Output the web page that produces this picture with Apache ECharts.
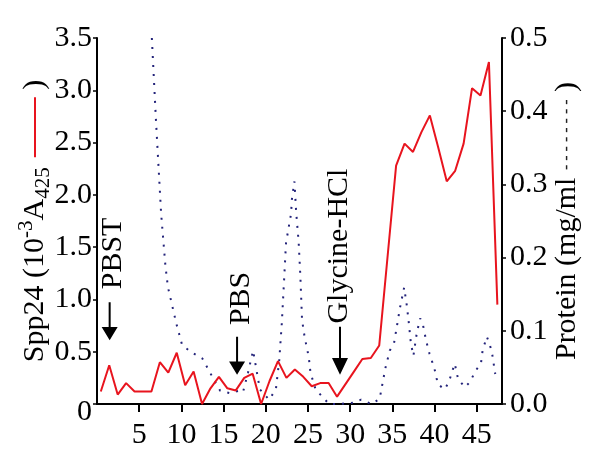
<!DOCTYPE html>
<html><head><meta charset="utf-8">
<script src="https://cdn.jsdelivr.net/npm/echarts@6/dist/echarts.min.js"></script>
<style>html,body{margin:0;padding:0;background:#fff}#c{width:600px;height:466px}</style>
</head><body><div id="c"></div>
<script>
// Spp24 activity (left axis, 10^-3 A425)
const spp24X = [0.45,1.45,2.45,3.45,4.45,5.45,6.45,7.45,8.45,9.45,10.45,11.45,12.45,13.45,14.45,15.45,16.45,17.45,18.45,19.45,20.45,21.45,22.45,23.45,24.45,25.45,26.45,27.45,28.45,29.45,30.45,31.45,32.45,33.45,34.45,35.45,36.45,37.45,38.45,39.45,40.45,41.45,42.45,43.45,44.45,45.45,46.45,47.45];
const spp24 = [0.12,0.37,0.09,0.20,0.12,0.12,0.12,0.40,0.30,0.49,0.18,0.31,0.00,0.15,0.26,0.15,0.13,0.25,0.29,0.00,0.22,0.41,0.25,0.33,0.26,0.17,0.20,0.20,0.07,0.19,0.31,0.43,0.44,0.56,1.42,2.28,2.49,2.41,2.60,2.76,2.45,2.13,2.23,2.49,3.02,2.95,3.27,0.95];
// Protein (right axis, mg/ml)
const proteinX = [6.5,7.0,7.6,8.1,8.4,9.4,10.1,11.3,12.5,13.3,14.0,14.6,15.7,16.8,17.3,17.9,18.5,19.0,19.3,20.4,21.2,21.6,21.9,22.2,22.4,22.7,23.0,23.1,23.4,23.6,23.9,24.1,24.3,24.6,25.1,25.3,25.9,27.5,28.2,28.8,30.5,31.3,32.5,33.5,33.9,34.2,34.7,35.2,35.6,35.9,36.4,36.7,36.9,37.2,37.5,37.9,38.3,38.6,39.0,39.4,40.0,40.4,41.2,41.7,42.0,42.4,42.8,43.6,44.2,44.9,45.5,45.7,46.2,46.5,46.8,47.2];
const protein = [0.50,0.385,0.26,0.19,0.16,0.11,0.08,0.07,0.062,0.045,0.03,0.018,0.015,0.018,0.016,0.043,0.073,0.04,0.02,0.006,0.02,0.06,0.11,0.175,0.22,0.24,0.26,0.28,0.304,0.263,0.221,0.175,0.115,0.092,0.064,0.043,0.02,0.0,0.0,0.0,0.002,0.006,0.0,0.007,0.032,0.05,0.073,0.083,0.11,0.131,0.159,0.136,0.117,0.083,0.066,0.097,0.117,0.11,0.087,0.069,0.048,0.027,0.02,0.03,0.041,0.055,0.034,0.023,0.03,0.046,0.055,0.073,0.092,0.083,0.071,0.041];
// Tick settings / labels
const xTickLabels = ['5','10','15','20','25','30','35','40','45'];
const leftTickLabels = ['0','0.5','1.0','1.5','2.0','2.5','3.0','3.5'];
const rightTickLabels = ['0.0','0.1','0.2','0.3','0.4','0.5'];
// Buffer-change annotations
const noteText = ['PBST','PBS','Glycine-HCl'];
const arrowX = [1.5,16.6,28.8];
const arrowTip = [0.61,0.28,0.28];
const noteX = [1.94,17.06,28.7];
const noteY = [1.44,1.01,1.51];
const arrowLen = [38,38,48];

const FONT = 'Liberation Serif';
const chart = echarts.init(document.getElementById('c'));
const arrowPath = 'path://M7,0L9,0L9,26L16,26L8,40L0,26L7,26Z';
const marks = [];
noteText.forEach((t,i)=>{
  marks.push({name:t+'_a', coord:[arrowX[i],arrowTip[i]], symbol:arrowPath, symbolSize:[16,arrowLen[i]], symbolKeepAspect:false, symbolOffset:[0,'-50%'], itemStyle:{color:'#000'}, label:{show:false}});
  marks.push({name:t, coord:[noteX[i],noteY[i]], symbol:'rect', symbolSize:1, itemStyle:{color:'rgba(0,0,0,0)'},
    label:{show:true, formatter:t, position:'inside', rotate:90, fontSize:30, fontFamily:FONT, color:'#000'}});
});
const axisText = {fontSize:30, fontFamily:FONT, color:'#000'};
chart.setOption({
  animation:false,
  backgroundColor:'#fff',
  grid:{left:97, right:98, top:38, bottom:62},
  xAxis:{type:'value', min:0, max:48, interval:5,
    axisLine:{lineStyle:{color:'#000', width:2}},
    axisTick:{show:true, length:8, lineStyle:{color:'#000', width:2}},
    splitLine:{show:false},
    axisLabel:Object.assign({margin:16, showMinLabel:false, showMaxLabel:false,
      formatter:v=>{const i=Math.round(v/5)-1; return (v%5===0 && i>=0 && i<xTickLabels.length)?xTickLabels[i]:'';}}, axisText)
  },
  yAxis:[{type:'value', min:0, max:3.5, interval:0.5, position:'left',
      axisLine:{show:true, lineStyle:{color:'#000', width:2}},
      axisTick:{show:true, length:4, lineStyle:{color:'#000', width:1.5}},
      splitLine:{show:false},
      axisLabel:Object.assign({margin:5, formatter:v=>{const s=leftTickLabels[Math.round(v/0.5)]||''; return v===0?'{z|'+s+'}':s;},
        rich:{z:{fontSize:30, fontFamily:FONT, color:'#000', padding:[16,0,0,0]}}}, axisText),
      name:'{t|Spp24 (10}{sup|-3}{t|A}{sub|425}{g| }{red| }{t| )}',
      nameLocation:'middle', nameRotate:90, nameGap:43, nameMoveOverlap:false,
      nameTextStyle:{rich:{
        t:{fontSize:30, fontFamily:FONT, color:'#000', lineHeight:38},
        sup:{fontSize:21, fontFamily:FONT, color:'#000', verticalAlign:'top', lineHeight:20},
        sub:{fontSize:21, fontFamily:FONT, color:'#000', verticalAlign:'bottom', lineHeight:20},
        g:{fontSize:10, width:10},
        red:{width:60, height:2, backgroundColor:'#e8141e', fontSize:2}
      }}
    },
    {type:'value', min:0, max:0.5, interval:0.1, position:'right',
      axisLine:{show:true, lineStyle:{color:'#000', width:2}},
      axisTick:{show:true, length:4, lineStyle:{color:'#000', width:1.5}},
      splitLine:{show:false},
      axisLabel:Object.assign({margin:8, formatter:v=>rightTickLabels[Math.round(v/0.1)]||''}, axisText),
      name:'{t|Protein (mg/ml }{d|- - - - - - - -}{t| )}',
      nameLocation:'middle', nameRotate:90, nameGap:47, nameMoveOverlap:false,
      nameTextStyle:{rich:{
        t:{fontSize:30, fontFamily:FONT, color:'#000', lineHeight:36},
        d:{fontSize:16, fontFamily:FONT, color:'#222', fontWeight:'bold'}
      }}
    }],
  series:[
    {type:'line', yAxisIndex:0, data:spp24X.map((x,i)=>[x,spp24[i]]), symbol:'none',
      lineStyle:{color:'#e8141e', width:2}, z:3,
      markPoint:{silent:true, animation:false, data:marks}},
    {type:'line', yAxisIndex:1, data:proteinX.map((x,i)=>[x,protein[i]]), symbol:'none',
      lineStyle:{color:'#23237a', width:2, type:[2,7], cap:'butt'}, z:2}
  ]
});
</script></body></html>
